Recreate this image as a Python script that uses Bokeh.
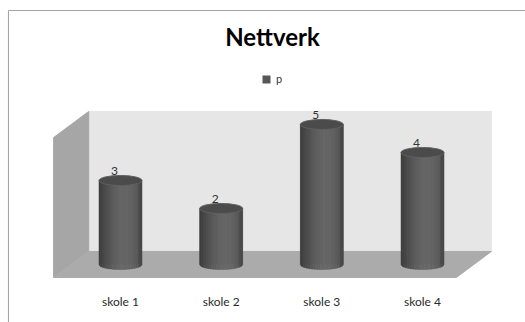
import numpy as np
from bokeh.plotting import figure
from bokeh.models import Range1d, Label, Legend, LegendItem, ColumnDataSource
from bokeh.core.properties import value
from bokeh.embed import file_html
from bokeh.resources import INLINE

# --- data -------------------------------------------------------------
categories = ["skole 1", "skole 2", "skole 3", "skole 4"]
series_name = "p"
counts = [3, 2, 5, 4]
chart_title = "Nettverk"

# --- 3D box geometry (data units) -------------------------------------
Y_TOP = 5.0          # height of the back wall at mid depth
DEPTH_X = 0.348      # oblique depth offset, x
DEPTH_Y = 0.93       # oblique depth offset, y
X_LEFT, X_RIGHT = -0.49, 3.51
CYL_W = 0.427        # cylinder diameter
CYL_B = 0.18         # half height of the elliptical caps
LABEL_Y = -1.32      # baseline of the category labels

FONT = "Lato"

p = figure(width=525, height=322, output_backend="svg", toolbar_location=None,
           x_range=Range1d(-1.192, 4.023), y_range=Range1d(-2.0714, 9.4286),
           x_axis_location=None, y_axis_location=None, min_border=0,
           background_fill_color="white", border_fill_color="white",
           outline_line_color=None)
p.grid.visible = False

hx, hy = DEPTH_X / 2, DEPTH_Y / 2

# chart-area frame (top and left edges)
p.line([-1.113, -1.113, 5.0], [-3.0, 9.07, 9.07], line_color="#a0a0a0", line_width=1)

# back wall
p.patch([X_LEFT + hx, X_RIGHT + hx, X_RIGHT + hx, X_LEFT + hx],
        [hy, hy, Y_TOP + hy, Y_TOP + hy],
        fill_color="#e6e6e6", line_color="#e6e6e6")
# side wall
p.patch([X_LEFT - hx, X_LEFT + hx, X_LEFT + hx, X_LEFT - hx],
        [-hy, hy, Y_TOP + hy, Y_TOP - hy],
        fill_color="#a6a6a6", line_color="#a6a6a6")
# floor
p.patch([X_LEFT - hx, X_RIGHT - hx, X_RIGHT + hx, X_LEFT + hx],
        [-hy, -hy, hy, hy],
        fill_color="#ababab", line_color="#ababab")

# --- cylinders ---------------------------------------------------------
xs_idx = list(range(len(categories)))

# base body (also the legend swatch)
body = p.vbar(x=xs_idx, top=counts, bottom=0, width=CYL_W,
              fill_color="#575757", line_color=None)

# shaded strips with a curved front bottom edge
N = 26
strip_xs, strip_ys, strip_cols = [], [], []
for i, v in zip(xs_idx, counts):
    for j in range(N):
        ua = -1 + 2 * j / N
        ub = -1 + 2 * (j + 1) / N
        um = (ua + ub) / 2
        lum = 60 + 44 * np.cos(np.clip((um - 0.2) / 1.25, -1, 1) * np.pi / 2) ** 1.2
        if um > 0.85:
            lum -= 10
        c = int(lum)
        us = np.linspace(ua, ub, 4)
        bx = i + us * CYL_W / 2
        by = -CYL_B * np.sqrt(np.clip(1 - us ** 2, 0, 1))
        strip_xs.append([i + ua * CYL_W / 2, i + ub * CYL_W / 2] + list(bx[::-1]))
        strip_ys.append([v, v] + list(by[::-1]))
        strip_cols.append("#%02x%02x%02x" % (c, c, c))
p.patches(xs=strip_xs, ys=strip_ys, fill_color=strip_cols, line_color=strip_cols,
          line_width=0.5)

# top caps
p.ellipse(x=xs_idx, y=counts, width=CYL_W, height=2 * CYL_B,
          fill_color="#4b4b4b", line_color="#606060", line_width=1)

# value labels
lab = ColumnDataSource(dict(x=[i - 0.06 for i in xs_idx],
                            y=[v + 0.2 for v in counts],
                            t=[str(v) for v in counts]))
p.text(x="x", y="y", text="t", source=lab, text_align="center",
       text_baseline="bottom", text_font=value(FONT),
       text_font_size="12px", text_color="#333333")

# category labels under the floor
cat = ColumnDataSource(dict(x=xs_idx, y=[LABEL_Y] * len(xs_idx), t=categories))
p.text(x="x", y="y", text="t", source=cat, text_align="center",
       text_baseline="middle", text_font=value(FONT),
       text_font_size="12px", text_color="#2a2a2a")

# --- title -------------------------------------------------------------
p.add_layout(Label(x=1.51, y=8.13, text=chart_title, text_align="center",
                   text_baseline="middle", text_font=FONT, text_font_size="24px",
                   text_font_style="bold", text_color="#000000"))

# --- legend ------------------------------------------------------------
legend = Legend(items=[LegendItem(label=series_name, renderers=[body])],
                location=(261, 237), orientation="horizontal",
                glyph_width=10, glyph_height=10, label_standoff=5, padding=0,
                margin=0, spacing=0, border_line_color=None,
                background_fill_alpha=0, label_text_font=FONT,
                label_text_font_size="11px", label_text_color="#333333",
                label_height=12)
p.add_layout(legend)

open("out.html", "w").write(file_html(p, INLINE))
